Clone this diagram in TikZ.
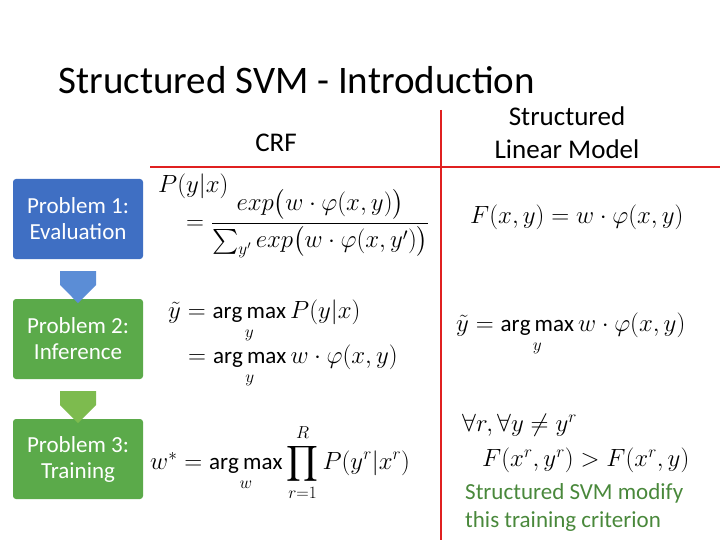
\documentclass[tikz,border=0pt]{standalone}
\usepackage{fontspec}
\setmainfont{Carlito}
\usepackage{amsmath}
\usetikzlibrary{positioning,shapes.arrows}
\definecolor{probblue}{HTML}{3F6FC3}
\definecolor{probgreen}{HTML}{5BAA4A}
\definecolor{arrblue}{HTML}{5B8DD6}
\definecolor{arrgreen}{HTML}{7DBB4E}
\definecolor{gridred}{HTML}{E02020}
\tikzset{
  probbox/.style={rounded corners=3pt, minimum width=130pt, minimum height=80pt,
    text=white, align=center, font=\fontsize{23}{26}\selectfont, inner sep=0pt},
  downarrow/.style={single arrow, shape border rotate=270, minimum width=36pt,
    single arrow head extend=0pt, minimum height=32pt, inner sep=5pt},
  eqn/.style={font=\fontsize{23}{27}\selectfont, anchor=west, inner sep=0pt},
  hdr/.style={font=\fontsize{27}{33}\selectfont, align=center},
}
\begin{document}
\begin{tikzpicture}[x=1pt, y=-1pt]
    \useasboundingbox (0,0) rectangle (720,540);
    \node[anchor=west, font=\fontsize{39}{46}\selectfont] (title) at (55,80) {Structured SVM - Introduction};
    % grid
    \draw[gridred, line width=2.5pt] (441,110) -- (441,540);
    \draw[gridred, line width=2.5pt] (150,167) -- (720,167);
    \node[hdr] (crf) at (276,143) {CRF};
    \node[hdr] (slm) at (567,133) {Structured\\Linear Model};
    % problem boxes
    \node[probbox, fill=probblue] (p1) at (78,219) {Problem 1:\\Evaluation};
    \node[probbox, fill=probgreen] (p2) at (78,339) {Problem 2:\\Inference};
    \node[probbox, fill=probgreen] (p3) at (78,459) {Problem 3:\\Training};
    \node[downarrow, fill=arrblue] (a1) at (78,278) {};
    \node[downarrow, fill=arrgreen] (a2) at (78,398) {};
    % equations
    \node[eqn] (e1a) at (158,186) {$P(y|x)$};
    \node[eqn] (e1b) at (186,224) {$=\dfrac{exp\big(w\cdot\varphi(x,y)\big)}{\sum_{y'}exp\big(w\cdot\varphi(x,y')\big)}$};
    \node[eqn] (e1c) at (470,217) {$F(x,y)=w\cdot\varphi(x,y)$};
    \node[eqn] (e2a) at (168,322) {$\tilde{y}=\underset{y}{\arg\max}\,P(y|x)$};
    \node[eqn] (e2b) at (188,367) {$=\underset{y}{\arg\max}\,w\cdot\varphi(x,y)$};
    \node[eqn] (e2c) at (456,335) {$\tilde{y}=\underset{y}{\arg\max}\,w\cdot\varphi(x,y)$};
    \node[eqn] (e3a) at (150,463) {$w^{*}=\underset{w}{\arg\max}\displaystyle\prod_{r=1}^{R}P(y^{r}|x^{r})$};
    \node[eqn] (e3b) at (462,425) {$\forall r,\forall y\neq y^{r}$};
    \node[eqn] (e3c) at (482,460) {$F(x^{r},y^{r})>F(x^{r},y)$};
    \node[anchor=west, align=left, text=probgreen!80!black, font=\fontsize{23}{28}\selectfont, inner sep=0pt] (note) at (465,507) {Structured SVM modify\\this training criterion};
\end{tikzpicture}
\end{document}
